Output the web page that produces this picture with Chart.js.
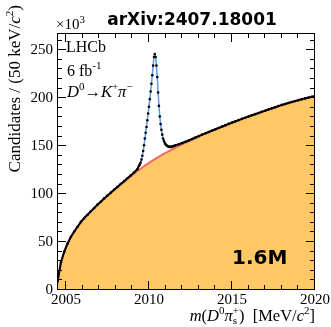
<!DOCTYPE html>
<html>
<head>
<meta charset="utf-8">
<script src="https://cdn.jsdelivr.net/npm/chart.js@4.4.1/dist/chart.umd.min.js"></script>
<style>
  html, body { margin: 0; padding: 0; background: #fff; }
</style>
</head>
<body>
<canvas id="c" width="331" height="327"></canvas>
<script>
// bin centres, MeV/c^2
function range(a, b, step) {
  const out = [];
  const n = Math.round((b - a) / step);
  for (let i = 0; i <= n; i++) out.push(Math.round((a + i * step) * 100) / 100);
  return out;
}

// ------------- Data (x10^3 candidates per 50 keV) -------------
const massLow  = range(2004.5, 2009.3, 0.2);
const candLow  = [9, 29, 40, 48.5, 55.5, 61, 66, 71, 75, 78.5, 82, 85.5, 89, 92, 95.5,
                  98.5, 101.5, 104.5, 107.5, 110.5, 113.5, 116.5, 119.5, 122.5, 126];

const massPeak = range(2009.4, 2011.6, 0.05);
const candPeak = [129.5, 131, 133, 136, 140, 145, 151, 158, 164, 170, 177, 184, 191, 199, 207,
                  215, 224, 234, 243, 246, 243, 234, 222, 206, 192, 181, 173, 167, 162, 158,
                  155.5, 153.5, 152, 151, 150.3, 149.8, 149.4, 149.2, 149.2, 149.3, 149.5, 149.8,
                  150.2, 150.6, 151];
const fitPeak  = [129.3, 131.2, 133.4, 136.2, 139.8, 144.6, 150.6, 157.4, 164, 170.3, 177, 184,
                  191.2, 198.8, 206.8, 215.2, 224.3, 234, 242.8, 246, 242.6, 233.5, 221.5, 206.5,
                  192.3, 181.2, 173, 166.8, 161.8, 158, 155.3, 153.3, 151.9, 150.9, 150.2, 149.7,
                  149.4, 149.2, 149.2, 149.3, 149.5, 149.8, 150.2, 150.6, 151];

const massHigh = range(2011.8, 2020.0, 0.2);
const candHigh = [152, 153.3, 154.6, 156, 157.5, 159, 160.5, 162, 163.4, 164.8, 166.2, 167.6,
                  169, 170.4, 171.8, 173.2, 174.5, 175.8, 177.1, 178.4, 179.7, 181, 182.2, 183.4,
                  184.6, 185.8, 187, 188.2, 189.4, 190.6, 191.8, 193, 194, 195, 196, 197, 198,
                  198.9, 199.8, 200.6, 201.4, 202.2];

const bkgMass = [2004.45, 2004.5, 2004.6, 2004.7, 2004.8, 2004.9, 2005.0, 2005.25, 2005.5, 2005.75,
                 2006.0, 2006.5, 2007.0, 2007.5, 2008.0, 2008.5, 2009.0, 2009.5, 2010.0, 2010.5,
                 2011.0, 2011.5, 2012.0, 2012.5, 2013.0, 2013.5, 2014.0, 2014.5, 2015.0, 2015.5,
                 2016.0, 2016.5, 2017.0, 2017.5, 2018.0, 2018.5, 2019.0, 2019.5, 2020.0];
const bkgCand = [0, 9, 21, 29, 35, 40, 45, 54, 61, 67, 73, 82, 90.5, 98, 106, 113, 120, 126.5,
                 132.5, 138, 143, 147.5, 151.8, 156, 160, 163.8, 167.3, 170.8, 174.2, 177.6,
                 180.8, 183.9, 187, 190, 192.8, 195.5, 198, 200.3, 202.2];

const xTicks = [2005, 2010, 2015, 2020];
const yTicks = [0, 50, 100, 150, 200, 250];
const X_MIN = 2004.46, X_MAX = 2020, Y_MAX = 268;
const PEAK_LO = 2009.4, PEAK_HI = 2011.6;

// ------------- Helpers -------------
const SERIF = '"Liberation Serif", "DejaVu Serif", serif';
const SANS  = '"DejaVu Sans", sans-serif';
const pts = (xs, ys) => xs.map((m, i) => ({ x: m, y: ys[i] }));

function rich(ctx, parts, x, y, align) {
  const fontOf = p => `${p.it ? 'italic ' : ''}${p.s}px ${SERIF}`;
  ctx.textAlign = 'left';
  let w = 0, last = 0;
  for (const p of parts) {
    ctx.font = fontOf(p);
    const pw = ctx.measureText(p.t).width;
    w += p.stack ? Math.max(0, pw - last) : pw;
    last = pw;
  }
  let cx = align === 'right' ? x - w : x;
  last = 0;
  for (const p of parts) {
    ctx.font = fontOf(p);
    const pw = ctx.measureText(p.t).width;
    if (p.stack) {
      cx -= last;
      ctx.fillText(p.t, cx, y + (p.dy || 0));
      cx += Math.max(pw, last);
    } else {
      ctx.fillText(p.t, cx, y + (p.dy || 0));
      cx += pw;
    }
    last = pw;
  }
}

// ------------- Frame, inner ticks and labels -------------
const rootStyle = {
  id: 'rootStyle',
  afterDatasetsDraw(chart) {
    const { ctx, chartArea: a, scales: { x, y } } = chart;
    ctx.save();
    ctx.strokeStyle = '#000';
    ctx.lineWidth = 1;
    ctx.strokeRect(a.left + 0.5, a.top + 0.5, a.right - a.left - 1, a.bottom - a.top - 1);
    ctx.beginPath();
    for (let v = 2005; v <= 2020; v++) {
      const px = Math.round(x.getPixelForValue(v)) - 0.5;
      const len = xTicks.includes(v) ? 9 : 5;
      ctx.moveTo(px, a.bottom); ctx.lineTo(px, a.bottom - len);
      ctx.moveTo(px, a.top);    ctx.lineTo(px, a.top + len);
    }
    for (let v = 0; v <= 260; v += 10) {
      const py = Math.round(y.getPixelForValue(v)) - 0.5;
      const len = yTicks.includes(v) ? 9 : 5;
      ctx.moveTo(a.left, py);  ctx.lineTo(a.left + len, py);
      ctx.moveTo(a.right, py); ctx.lineTo(a.right - len, py);
    }
    ctx.stroke();

    ctx.fillStyle = '#000';
    ctx.textBaseline = 'alphabetic';

    // title
    ctx.font = `bold 17px ${SANS}`;
    ctx.textAlign = 'center';
    ctx.fillText('arXiv:2407.18001', 192, 25);

    // exponent, just right of the frame's left edge
    rich(ctx, [{ t: '\u00d710', s: 15 }, { t: '3', s: 11, dy: -6 }], a.left - 1, 29, 'left');

    // legend text
    rich(ctx, [{ t: 'LHCb', s: 16 }], 66, 52, 'left');
    rich(ctx, [{ t: '6 fb', s: 16 }, { t: '-1', s: 11, dy: -7 }], 67, 76, 'left');
    rich(ctx, [
      { t: 'D', s: 16.5, it: true }, { t: '0', s: 11, dy: -7 },
      { t: '\u2192', s: 16.5 },
      { t: 'K', s: 16.5, it: true }, { t: '+', s: 11, dy: -7 },
      { t: '\u03c0', s: 16.5, it: true }, { t: '\u2212', s: 11, dy: -7 }
    ], 67, 97, 'left');

    // x title
    rich(ctx, [
      { t: 'm', s: 16.5, it: true }, { t: '(', s: 16.5 },
      { t: 'D', s: 16.5, it: true }, { t: '0', s: 11, dy: -7 },
      { t: '\u03c0', s: 16.5, it: true }, { t: '+', s: 11, dy: -7 }, { t: 's', s: 11, dy: 3, stack: true },
      { t: ')  [MeV/', s: 16.5 }, { t: 'c', s: 16.5, it: true }, { t: '2', s: 11, dy: -7 }, { t: ']', s: 16.5 }
    ], 315, 321, 'right');

    // y title
    ctx.save();
    ctx.translate(20, 5);
    ctx.rotate(-Math.PI / 2);
    rich(ctx, [
      { t: 'Candidates / (50 keV/', s: 17 }, { t: 'c', s: 17, it: true },
      { t: '2', s: 11, dy: -7 }, { t: ')', s: 17 }
    ], 0, 0, 'right');
    ctx.restore();

    // yield
    ctx.textAlign = 'left';
    ctx.font = `bold 20px ${SANS}`;
    ctx.fillText('1.6M', 232, 264);
    ctx.restore();
  }
};

// ------------- Chart -------------
new Chart(document.getElementById('c'), {
  type: 'line',
  data: {
    datasets: [
      {
        label: 'Data',
        data: pts(massLow, candLow).concat(pts(massPeak, candPeak), pts(massHigh, candHigh)),
        borderColor: '#000',
        borderWidth: 2,
        pointRadius: 1.3,
        pointBackgroundColor: '#000',
        pointBorderWidth: 0,
        fill: false,
        segment: {
          borderColor: c => (c.p0.parsed.x >= PEAK_LO && c.p1.parsed.x <= PEAK_HI) ? 'rgba(0,0,0,0)' : '#000'
        },
        order: 0
      },
      {
        label: 'Fit',
        data: pts(massPeak, fitPeak),
        borderColor: '#5b9be6',
        borderWidth: 1.5,
        pointRadius: 0,
        cubicInterpolationMode: 'monotone',
        fill: false,
        order: 1
      },
      {
        label: 'Background',
        data: pts(bkgMass, bkgCand),
        borderColor: '#f46a6a',
        borderWidth: 2,
        backgroundColor: '#fec964',
        pointRadius: 0,
        cubicInterpolationMode: 'monotone',
        fill: 'origin',
        order: 2
      }
    ]
  },
  options: {
    responsive: false,
    animation: false,
    devicePixelRatio: 1,
    layout: { padding: { top: 33, right: 16, left: 0, bottom: 0 } },
    plugins: { legend: { display: false }, tooltip: { enabled: false } },
    scales: {
      x: {
        type: 'linear',
        min: X_MIN, max: X_MAX,
        grid: { display: false, drawTicks: false },
        border: { display: false },
        afterBuildTicks: s => { s.ticks = xTicks.map(v => ({ value: v })); },
        afterFit: s => { s.height = 37; },
        ticks: { color: '#000', padding: 1, maxRotation: 0, callback: v => String(v),
                 font: { family: SERIF, size: 15 } }
      },
      y: {
        min: 0, max: Y_MAX,
        grid: { display: false, drawTicks: false },
        border: { display: false },
        afterBuildTicks: s => { s.ticks = yTicks.map(v => ({ value: v })); },
        afterFit: s => { s.width = 57; },
        ticks: { color: '#000', padding: 4, font: { family: SERIF, size: 15 } }
      }
    }
  },
  plugins: [rootStyle]
});
</script>
</body>
</html>
